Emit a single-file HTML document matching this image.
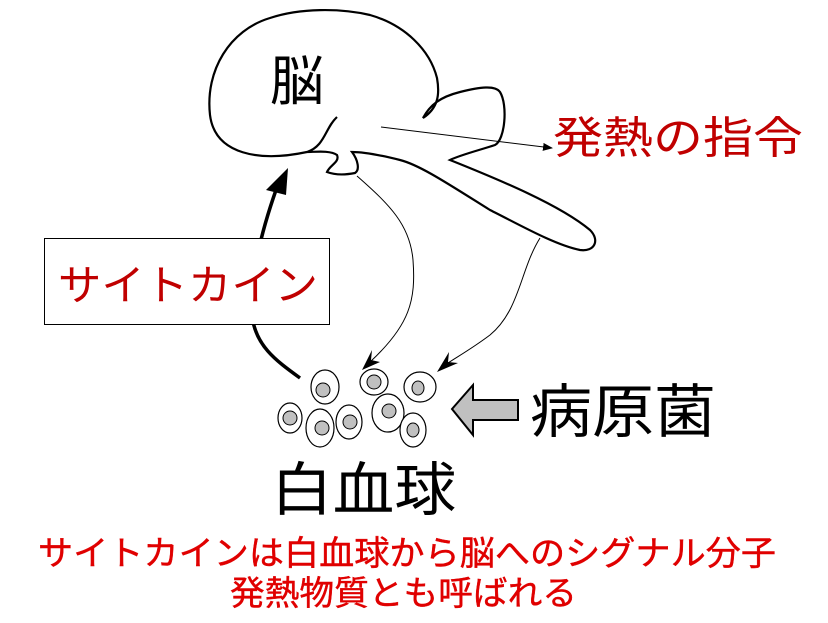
<!DOCTYPE html>
<html><head><meta charset="utf-8"><style>
html,body{margin:0;padding:0;background:#fff;}
svg{display:block;}
text{font-family:"Liberation Sans","Noto Sans CJK JP",sans-serif;}
</style></head><body>
<svg width="828" height="623" viewBox="0 0 828 623" xmlns="http://www.w3.org/2000/svg">
<defs>
<marker id="ah" markerWidth="10" markerHeight="8" refX="9" refY="4" orient="auto" markerUnits="userSpaceOnUse"><path d="M0,0 L10,4 L0,8 z" fill="#000"/></marker>
</defs>
<!-- brain -->
<path d="M337,117 C325,128 325,146 307,152 C260,162 215,155 210,115 C205,70 230,30 270,18 C300,8 340,8 370,15 C405,25 430,50 437,78 C440,95 438,108 423,118 C430,105 440,97 460,92 C480,87 495,85 500,92 C508,105 505,140 495,145 C480,150 460,155 450,160 C500,180 560,205 590,230 C600,240 595,252 580,250 C555,245 520,225 490,210 C450,185 420,165 400,160 C380,155 365,152 352,152 C358,160 360,170 355,173 C345,175 335,175 327,172 C330,165 340,162 337,155 C330,150 315,152 307,152" fill="#fff" stroke="#000" stroke-width="2.2"/>
<text x="270" y="100" font-size="54" fill="#000">脳</text>
<line x1="381" y1="127" x2="552" y2="148" stroke="#000" stroke-width="1" marker-end="url(#ah)"/>
<text x="553" y="153" font-size="44" fill="#c00000" textLength="250" lengthAdjust="spacingAndGlyphs">発熱の指令</text>
<path d="M357,176 C390,205 410,225 413,260 C416,300 410,325 370,362" fill="none" stroke="#000" stroke-width="1"/>
<path d="M362,370 L372,350 L371,360 L380,362 z" fill="#000"/>
<path d="M540,238 C520,270 520,310 490,335 C470,350 455,358 445,365" fill="none" stroke="#000" stroke-width="1"/>
<path d="M437,372 L449,352 L448,362 L458,363 z" fill="#000"/>
<path d="M300,378 C275,360 255,345 252,315 C249,280 262,230 276,190" fill="none" stroke="#000" stroke-width="3.5"/>
<path d="M288,168 L266,190 L286,195 z" fill="#000"/>
<rect x="44.5" y="238.5" width="285" height="86" fill="#fff" stroke="#000" stroke-width="1"/>
<text x="58" y="300" font-size="42" fill="#c00000" textLength="260" lengthAdjust="spacingAndGlyphs">サイトカイン</text>
<g stroke="#000" stroke-width="1.2" fill="#fff">
<ellipse cx="325" cy="387" rx="14" ry="17"/><ellipse cx="374" cy="382" rx="14" ry="13"/><ellipse cx="420" cy="387" rx="16" ry="15"/>
<ellipse cx="290" cy="418" rx="12" ry="15"/><ellipse cx="320" cy="428" rx="14" ry="19"/><ellipse cx="349" cy="422" rx="13" ry="17"/>
<ellipse cx="388" cy="413" rx="16" ry="19"/><ellipse cx="413" cy="430" rx="13" ry="17"/>
</g>
<g stroke="#000" stroke-width="1" fill="#c0c0c0">
<ellipse cx="323" cy="390" rx="7" ry="7"/><ellipse cx="374" cy="382" rx="7" ry="7"/><ellipse cx="418" cy="388" rx="6" ry="7"/>
<ellipse cx="290" cy="418" rx="7" ry="7"/><ellipse cx="322" cy="428" rx="7" ry="7"/><ellipse cx="350" cy="422" rx="7" ry="7"/>
<ellipse cx="389" cy="411" rx="7" ry="7"/><ellipse cx="413" cy="430" rx="6" ry="7"/>
</g>
<path d="M452,409 L473,385 L473,400 L518,400 L518,420 L473,420 L473,435 z" fill="#c0c0c0" stroke="#000" stroke-width="2"/>
<text x="530" y="432" font-size="58" fill="#000" textLength="186" lengthAdjust="spacingAndGlyphs">病原菌</text>
<text x="271" y="510" font-size="58" fill="#000" textLength="185" lengthAdjust="spacingAndGlyphs">白血球</text>
<text x="38" y="565" font-size="34" fill="#e00000" stroke="#e00000" stroke-width="0.4" textLength="738" lengthAdjust="spacingAndGlyphs">サイトカインは白血球から脳へのシグナル分子</text>
<text x="230" y="605" font-size="34" fill="#e00000" stroke="#e00000" stroke-width="0.4" textLength="347" lengthAdjust="spacingAndGlyphs">発熱物質とも呼ばれる</text>
</svg>
</body></html>
